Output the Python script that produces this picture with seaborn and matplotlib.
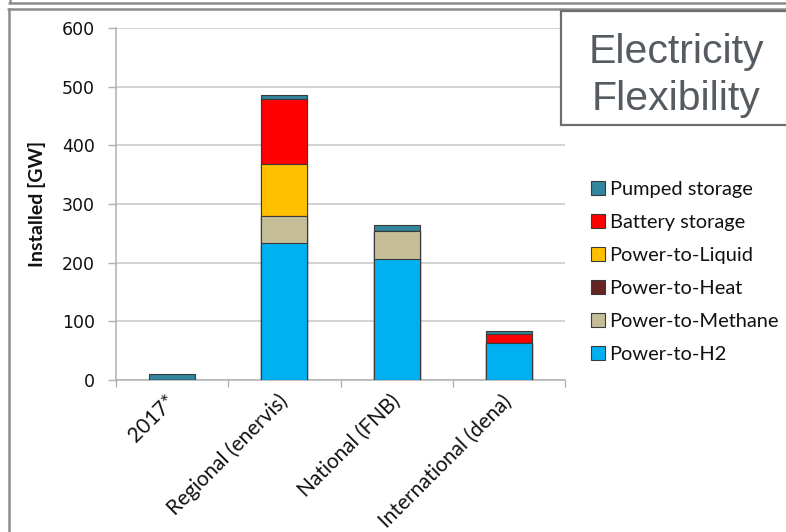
import matplotlib
matplotlib.use("Agg")
import matplotlib.pyplot as plt
from matplotlib.patches import Patch, Rectangle
from matplotlib.lines import Line2D
import numpy as np
import pandas as pd
import seaborn as sns

# Scenarios and installed capacity per technology [GW]
scenarios = ["2017*", "Regional (enervis)", "National (FNB)", "International (dena)"]
power_to_h2 = [0, 234, 207, 63]
power_to_methane = [0, 46, 47, 0]
power_to_heat = [0, 0, 0, 0]
power_to_liquid = [0, 89, 0, 0]
battery_storage = [0, 110, 0, 15]
pumped_storage = [9.5, 6, 10, 5]

# stacking order, bottom to top
layers = [
    ("Power-to-H2", power_to_h2, "#00B0F0"),
    ("Power-to-Methane", power_to_methane, "#C4BD97"),
    ("Power-to-Heat", power_to_heat, "#632423"),
    ("Power-to-Liquid", power_to_liquid, "#FFC000"),
    ("Battery storage", battery_storage, "#FF0000"),
    ("Pumped storage", pumped_storage, "#31859C"),
]

sns.set_theme(style="white")
plt.rcParams["font.family"] = ["Lato", "DejaVu Sans"]

fig = plt.figure(figsize=(7.86, 5.32), dpi=100)
ax = fig.add_axes([116 / 786, 1 - 380 / 532, (565 - 116) / 786, (380 - 28) / 532])

# cumulative tops of each layer; draw the tallest first so lower layers sit on top
cum = np.cumsum(np.array([vals for _, vals, _ in layers], dtype=float), axis=0)
edge = "#3a3a3a"
for i in range(len(layers) - 1, -1, -1):
    name, _, col = layers[i]
    df = pd.DataFrame({"scenario": scenarios, "top": cum[i]})
    sns.barplot(data=df, x="scenario", y="top", order=scenarios, color=col,
                saturation=1, width=0.41, edgecolor=edge, linewidth=0.8,
                errorbar=None, ax=ax, zorder=3)

ax.set_ylim(0, 600)
ax.set_xlim(-0.5, len(scenarios) - 0.5)
ax.set_yticks(range(0, 601, 100))
ax.yaxis.grid(True, color="#c6c6c6", linewidth=1.1, zorder=0)
ax.set_axisbelow(True)

for s in ["top", "right"]:
    ax.spines[s].set_visible(False)
for s in ["left", "bottom"]:
    ax.spines[s].set_color("#b0b0b0")
    ax.spines[s].set_linewidth(1.1)

ax.tick_params(axis="y", which="major", left=True, length=6, width=1,
               color="#b0b0b0", pad=9, labelsize=12.5, labelcolor="#111111")
for lab in ax.get_yticklabels():
    lab.set_family(["DejaVu Sans"])

# category boundaries carry the tick marks, labels sit at the centres
ax.set_xticks(np.arange(-0.5, len(scenarios), 1.0), minor=True)
ax.tick_params(axis="x", which="minor", bottom=True, length=5, width=1, color="#b0b0b0")
ax.tick_params(axis="x", which="major", bottom=False, length=0, pad=13)
ax.set_xticks(range(len(scenarios)))
ax.set_xticklabels(scenarios, rotation=45, ha="right", va="center",
                   rotation_mode="anchor", fontsize=15, color="#111111")

ax.set_xlabel("")
ax.set_ylabel("Installed [GW]", fontsize=14, fontweight="bold", color="#111111")
ax.yaxis.set_label_coords(-0.156, 0.5)

# legend, top technology first
handles = [Patch(facecolor=c, edgecolor=edge, linewidth=0.8, label=n)
           for n, _, c in layers[::-1]]
fig.legend(handles=handles, loc="upper left",
           bbox_to_anchor=(583 / 786, 1 - 173 / 532), frameon=False,
           fontsize=14.4, handlelength=0.68, handleheight=0.68,
           handletextpad=0.25, labelspacing=0.8, borderaxespad=0,
           labelcolor="#111111")

# outer frames
frame_col = "#8c8c8c"
fig.add_artist(Line2D([8.5 / 786, 8.5 / 786], [0, 1 - 9 / 532], color=frame_col,
                      lw=1.8, transform=fig.transFigure))
fig.add_artist(Line2D([8 / 786, 1], [1 - 9 / 532, 1 - 9 / 532], color=frame_col,
                      lw=1.8, transform=fig.transFigure))
fig.add_artist(Line2D([9 / 786, 1], [1 - 3 / 532, 1 - 3 / 532], color=frame_col,
                      lw=1.8, transform=fig.transFigure))
fig.add_artist(Line2D([9.5 / 786, 9.5 / 786], [1 - 3 / 532, 1], color=frame_col,
                      lw=1.8, transform=fig.transFigure))

# title box
fig.add_artist(Rectangle((561 / 786, 1 - 125 / 532), 0.5, (125 - 11) / 532,
                         transform=fig.transFigure, facecolor="white",
                         edgecolor="#6e6e6e", lw=1.6, zorder=5))
fig.text(676 / 786, 1 - 76 / 532, "Electricity\nFlexibility", ha="center",
         va="center", fontsize=29.5, color="#555b60", linespacing=1.3,
         family=["Liberation Sans"], zorder=6)

fig.savefig("out.png", dpi=100)
